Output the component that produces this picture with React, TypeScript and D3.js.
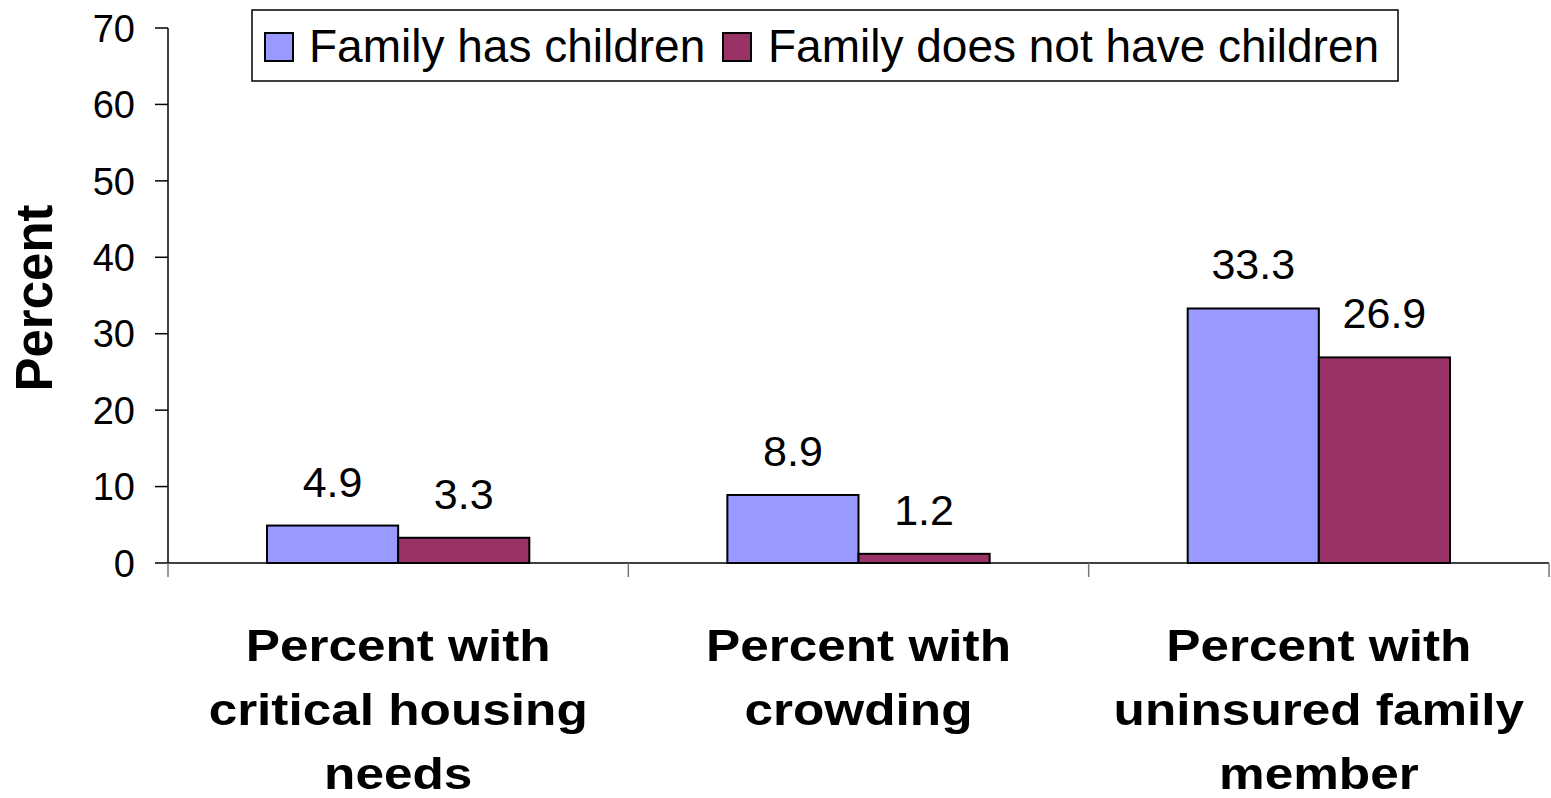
import React from "react";
import * as d3 from "d3";

const categories: string[][] = [
  ["Percent with", "critical housing", "needs"],
  ["Percent with", "crowding"],
  ["Percent with", "uninsured family", "member"],
];
const seriesNames = ["Family has children", "Family does not have children"];
const hasChildren = [4.9, 8.9, 33.3];
const noChildren = [3.3, 1.2, 26.9];
const yTicks = [0, 10, 20, 30, 40, 50, 60, 70];
const colors = ["#9999FF", "#993366"];

const W = 1551;
const H = 798;
const FONT = "Arial, 'Liberation Sans', Helvetica, sans-serif";

export default function App() {
  const left = 168;
  const right = 1549;
  const top = 28;
  const bottom = 563;

  const y = d3.scaleLinear().domain([0, 70]).range([bottom, top]);
  const catIdx = categories.map((_, i) => String(i));
  const x0 = d3.scaleBand().domain(catIdx).range([left, right]).padding(0);
  const x1 = d3
    .scaleBand()
    .domain(seriesNames)
    .range([0, x0.bandwidth()])
    .paddingInner(0)
    .paddingOuter(0.755);

  const values = [hasChildren, noChildren];

  const legendItems = [
    { name: seriesNames[0], color: colors[0], mx: 265, tx: 309 },
    { name: seriesNames[1], color: colors[1], mx: 723, tx: 768 },
  ];

  return (
    <svg
      width={W}
      height={H}
      style={{ position: "absolute", left: 0, top: 0, background: "#fff" }}
      fontFamily={FONT}
    >
      <rect x={0} y={0} width={W} height={H} fill="#fff" />

      {/* y axis */}
      <line x1={left} x2={left} y1={top} y2={bottom} stroke="#000" strokeWidth={1.5} />
      {yTicks.map((t) => (
        <g key={t}>
          <line x1={left - 13} x2={left} y1={y(t)} y2={y(t)} stroke="#000" strokeWidth={1.5} />
          <text
            x={135}
            y={y(t)}
            dy="0.36em"
            textAnchor="end"
            fontSize={38}
            fill="#000"
          >
            {t}
          </text>
        </g>
      ))}

      {/* y title */}
      <text
        transform={`translate(52, 298) rotate(-90)`}
        textAnchor="middle"
        fontSize={51}
        fontWeight="bold"
        fill="#000"
      >
        Percent
      </text>

      {/* bars */}
      {values.map((vals, si) =>
        vals.map((v, ci) => {
          const bx = (x0(String(ci)) as number) + (x1(seriesNames[si]) as number);
          const bw = x1.bandwidth();
          return (
            <g key={`${si}-${ci}`}>
              <rect
                x={bx}
                y={y(v)}
                width={bw}
                height={y(0) - y(v)}
                fill={colors[si]}
                stroke="#000"
                strokeWidth={2}
              />
              <text
                x={bx + bw / 2}
                y={y(v) - 29}
                textAnchor="middle"
                fontSize={43}
                fill="#000"
              >
                {v.toFixed(1)}
              </text>
            </g>
          );
        })
      )}

      {/* x axis */}
      <line x1={left} x2={right} y1={bottom} y2={bottom} stroke="#000" strokeWidth={1.5} />
      {[...catIdx.map((c) => x0(c) as number), right].map((tx, i) => (
        <line
          key={i}
          x1={tx}
          x2={tx}
          y1={bottom}
          y2={bottom + 14}
          stroke="#777"
          strokeWidth={1.5}
        />
      ))}

      {/* category labels */}
      {categories.map((lines, ci) => {
        const cx = (x0(String(ci)) as number) + x0.bandwidth() / 2;
        return lines.map((ln, li) => (
          <text
            key={`${ci}-${li}`}
            transform={`translate(${cx}, ${661 + li * 64}) scale(1.14, 1)`}
            textAnchor="middle"
            fontSize={45}
            fontWeight="bold"
            fill="#000"
          >
            {ln}
          </text>
        ));
      })}

      {/* legend */}
      <rect x={252} y={10} width={1146} height={71} fill="#fff" stroke="#000" strokeWidth={1.5} />
      {legendItems.map((it) => (
        <g key={it.name}>
          <rect x={it.mx} y={33} width={28} height={28} fill={it.color} stroke="#000" strokeWidth={2} />
          <text x={it.tx} y={62} fontSize={46} fill="#000">
            {it.name}
          </text>
        </g>
      ))}
    </svg>
  );
}
